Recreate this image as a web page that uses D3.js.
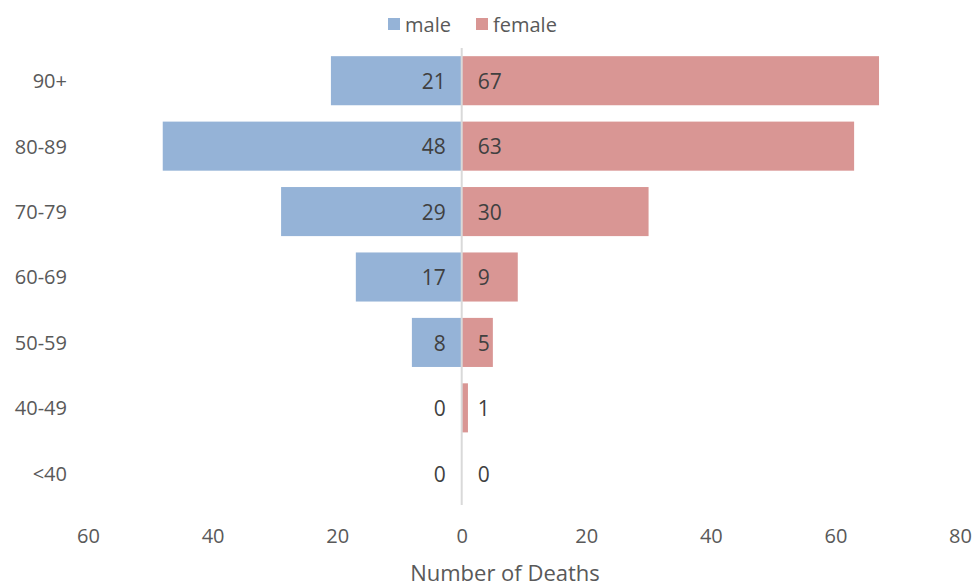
<!DOCTYPE html>
<html lang="en">
<meta charset="utf-8" />
<style>
  body { margin: 0; background: #fff; }
  text { font-family: "Open Sans", "Segoe UI", sans-serif; }
</style>
<svg width="976" height="587"></svg>
<script src="https://d3js.org/d3.v7.min.js"></script>
<script>
// data
var ageGroups = ["90+", "80-89", "70-79", "60-69", "50-59", "40-49", "<40"];
var male = [21, 48, 29, 17, 8, 0, 0];
var female = [67, 63, 30, 9, 5, 1, 0];
var tickValues = [-60, -40, -20, 0, 20, 40, 60, 80];

var svg = d3.select("svg");

var maleColor = "#95b3d7",
    femaleColor = "#d99694";

var x = d3.scaleLinear()
    .domain([-60, 80])
    .range([88, 960]);

var y = d3.scaleBand()
    .domain(ageGroups)
    .range([48, 506])
    .paddingInner(0.25)
    .paddingOuter(0.125);

var rows = ageGroups.map(function(g, i) {
  return { group: g, male: male[i], female: female[i] };
});

// male bars (negative side)
svg.append("g").selectAll("rect")
    .data(rows)
  .enter().append("rect")
    .attr("x", function(d) { return x(-d.male); })
    .attr("y", function(d) { return y(d.group); })
    .attr("width", function(d) { return x(0) - x(-d.male); })
    .attr("height", y.bandwidth())
    .attr("fill", maleColor);

// female bars
svg.append("g").selectAll("rect")
    .data(rows)
  .enter().append("rect")
    .attr("x", x(0))
    .attr("y", function(d) { return y(d.group); })
    .attr("width", function(d) { return x(d.female) - x(0); })
    .attr("height", y.bandwidth())
    .attr("fill", femaleColor);

// zero line
svg.append("line")
    .attr("x1", x(0)).attr("x2", x(0))
    .attr("y1", 48).attr("y2", 505)
    .attr("stroke", "#d9d9d9")
    .attr("stroke-width", 2);

// value labels
svg.append("g").selectAll("text")
    .data(rows)
  .enter().append("text")
    .attr("x", x(0) - 16)
    .attr("y", function(d) { return y(d.group) + y.bandwidth() / 2 + 1; })
    .attr("dy", "0.35em")
    .attr("text-anchor", "end")
    .attr("font-size", 21)
    .attr("fill", "#404040")
    .text(function(d) { return d.male; });

svg.append("g").selectAll("text")
    .data(rows)
  .enter().append("text")
    .attr("x", x(0) + 16)
    .attr("y", function(d) { return y(d.group) + y.bandwidth() / 2 + 1; })
    .attr("dy", "0.35em")
    .attr("text-anchor", "start")
    .attr("font-size", 21)
    .attr("fill", "#404040")
    .text(function(d) { return d.female; });

// category labels
var yAxis = svg.append("g")
    .attr("transform", "translate(67,1)")
    .call(d3.axisLeft(y).tickSize(0).tickPadding(0));
yAxis.select(".domain").remove();
yAxis.selectAll("text")
    .attr("font-size", 20)
    .attr("font-family", null)
    .attr("fill", "#595959");

// x axis labels
var xAxis = svg.append("g")
    .attr("transform", "translate(0,529)")
    .call(d3.axisBottom(x)
      .tickValues(tickValues)
      .tickSize(0)
      .tickPadding(0)
      .tickFormat(function(d) { return Math.abs(d); }));
xAxis.select(".domain").remove();
xAxis.selectAll("text")
    .attr("font-size", 20)
    .attr("font-family", null)
    .attr("fill", "#595959");

// axis title
svg.append("text")
    .attr("x", 505)
    .attr("y", 581)
    .attr("text-anchor", "middle")
    .attr("font-size", 22)
    .attr("fill", "#595959")
    .text("Number of Deaths");

// legend
var legend = svg.append("g");
var items = [
  { label: "male", color: maleColor, x: 388 },
  { label: "female", color: femaleColor, x: 476 }
];
legend.selectAll("rect")
    .data(items)
  .enter().append("rect")
    .attr("x", function(d) { return d.x; })
    .attr("y", 18)
    .attr("width", 12)
    .attr("height", 12)
    .attr("fill", function(d) { return d.color; });
legend.selectAll("text")
    .data(items)
  .enter().append("text")
    .attr("x", function(d) { return d.x + 17; })
    .attr("y", 25)
    .attr("dy", "0.35em")
    .attr("font-size", 20)
    .attr("fill", "#595959")
    .text(function(d) { return d.label; });
</script>
</html>
